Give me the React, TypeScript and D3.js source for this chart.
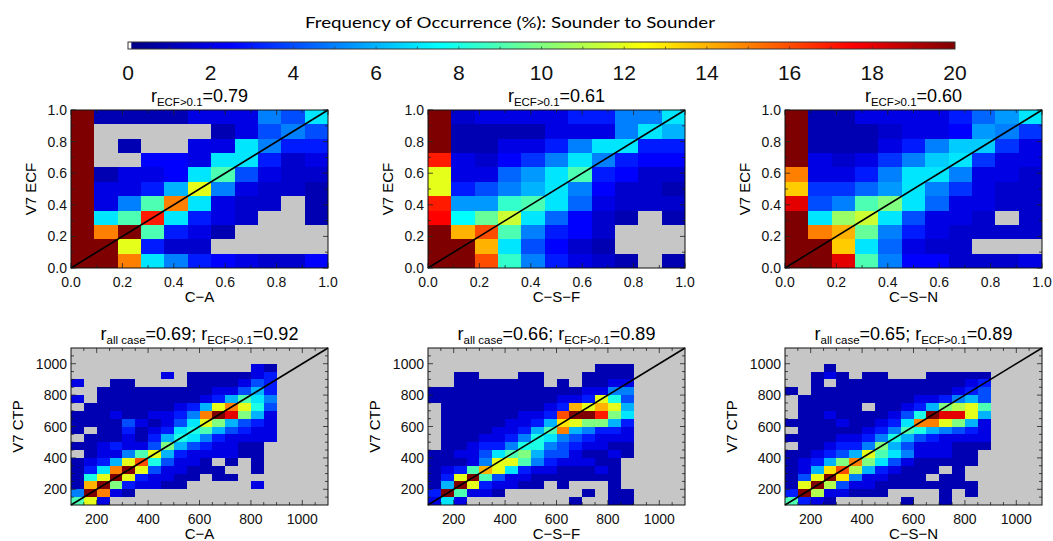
import React from "react";
import * as d3 from "d3";

const _ = null;

// ECF panels: 11 x 11 bins, rows listed from V7 ECF = 1.0 (top) down to 0.0
const ecfCA = [
  [20, 1, 1, 1, 1, 2, 2, 2, 5, 4, 7],
  [20, _, _, _, _, _, 1, 2, 4, 5, 4],
  [20, _, 1, _, _, 2, 2, 7, 5, 3, 3],
  [20, _, _, 2.5, 2.5, 2, 7, 7, 3, 1.5, 2],
  [20, 1, 2, 2, 2.5, 7, 9, 4, 2, 1.5, 1.5],
  [20, 2, 2, 3, 6, 12, 5, 2, 1.5, 1.5, 1],
  [20, 2, 5, 9, 15, 7, 2, 1.5, 1.5, _, 1],
  [20, 7, 9, 17, 7, 3, 2, 1.5, _, _, 1],
  [20, 15, 20, 9, 3, 2, 1, _, _, _, _],
  [20, 20, 12, 3, 1.5, 1.5, _, _, _, _, _],
  [20, 20, 15, 7, 5, 3, 2.5, 2, 1.5, 1.5, 2.5],
];
const ecfCSF = [
  [20, 1.5, 2, 2, 2, 2, 3, 3, 5, 5, 7],
  [20, 1, 1, 1, 1, 2, 2, 2, 5, 7, 6],
  [20, 1, 1, 2, 2, 3, 5, 7, 7, 3, 3],
  [17, 2, 1.5, 2.5, 3.5, 5, 7, 5, 3, 2.5, 2.5],
  [12, 2, 2, 4.5, 5.5, 7, 9, 3, 2.5, 1.5, 1.5],
  [12, 3, 4, 5, 6, 7, 5, 2.5, 1.5, 1.5, 1],
  [17, 5.5, 5.5, 8.5, 9, 7, 4.5, 2, 1.5, 1.5, 1.5],
  [17.5, 7.5, 9.5, 11.5, 7, 4.5, 2.5, 1.5, 1, _, 1],
  [20, 14, 16, 9, 5, 3, 2.5, 1.5, _, _, _],
  [20, 20, 14, 7, 4, 2.5, 1.5, 1, _, _, _],
  [20, 20, 16, 8.5, 5, 3, 2, 1.5, 1, _, 1],
];
const ecfCSN = [
  [20, 1, 1, 2, 2, 2, 2, 3, 4.5, 5.5, 7],
  [20, 1, 1, 1, 1.5, 2, 2, 2.5, 5.5, 5, 3.5],
  [20, 1, 1, 1, 2, 3, 5, 6.5, 6.5, 3.5, 2],
  [20, 2, 1.5, 2, 3.5, 5, 6.5, 7, 3.5, 2, 2],
  [15, 2, 2, 3, 5, 7, 7, 5, 2, 2, 1.5],
  [13.5, 3.5, 3.5, 4.5, 5.5, 7, 5, 3.5, 2, 1.5, 1.5],
  [18, 4, 5, 9, 10, 7, 4.5, 2, 2, 1.5, 1.5],
  [20, 7, 10.5, 11.5, 7, 4, 2, 2, 1.5, _, 1.5],
  [20, 15, 14, 9.5, 5, 3, 2, 1.5, 1.5, 1.5, 1.5],
  [20, 20, 13.5, 7, 4.5, 2, 1.5, 1.5, _, _, _],
  [20, 20, 18, 9, 5, 2.5, 2.5, 1.5, 1.5, 1.5, 2],
];

// CTP panels: 20 x 20 bins of 50 hPa, rows listed from 1100 (top) down to 100
const ctpCA = [
  [_, _, _, _, _, _, _, _, _, _, _, _, _, _, _, _, _, _, _, _],
  [_, _, _, _, _, _, _, _, _, _, _, _, _, _, _, _, _, _, _, _],
  [_, _, _, _, _, _, _, _, _, _, _, _, _, _, 2, 1, _, _, _, _],
  [_, _, _, _, _, _, _, 2, _, 1, 1, 1, 1, 1, 2, 3, _, _, _, _],
  [2, _, _, 1, 1, _, _, _, _, 1, 1, 1, 1, 2, 4, 3, _, _, _, _],
  [_, _, 1, 1, 1, 1, 1, 1, 1, 1, 1, 2, 2, 4, 6, 3, _, _, _, _],
  [2, _, 1, 1, 1, 1, 1, 1, 1, 1, 2, 3, 6, 9, 7, 5, _, _, _, _],
  [_, 1, 1, 1, 1, 1, 1, 1, 2, 3, 6, 12, 15, 12, 8, 4, _, _, _, _],
  [1, 1, 1, 2, 1, 1, 2, 2, 3, 5, 15, 20, 18, 10, 6, 2, _, _, _, _],
  [1, 1, 1, 1, 4, 2, 1, 2, 4, 7, 12, 10, 6, 4, 3, 2, _, _, _, _],
  [1, _, 1, 1, 3, 1, 2, 3, 7, 8, 9, 6, 4, 3, 2, 2, _, _, _, _],
  [_, 1, 1, 1, 2, 1, 3, 6, 8, 7, 5, 3, 2, 2, 2, 2, _, _, _, _],
  [1, 1, 2, 3, 2, 2, 4, 10, 6, 4, 3, 2, 2, 1, 1, _, _, _, _, _],
  [_, 1, 2, 2, 5, 9, 12, 6, 3, 2, 2, 2, 2, 1, 1, _, _, _, _, _],
  [1, 2, 3, 6, 12, 16, 8, 4, 2, 2, 1, _, 1, _, 1, _, _, _, _, _],
  [1, 3, 7, 15, 20, 12, 4, 2, 2, 1, 1, 1, _, _, 1, _, _, _, _, _],
  [1, 8, 12, 20, 12, 3, 2, 2, 1, 1, _, 1, 1, _, _, _, _, _, _, _],
  [1, 14, 20, 10, 3, 2, 2, 1, 1, _, _, _, _, _, 2, _, _, _, _, _],
  [5, 20, 15, 2, 1, _, _, _, _, _, _, _, _, _, _, _, _, _, _, _],
  [9, 12, 2, _, _, _, _, _, _, _, _, _, _, _, _, _, _, _, _, _],
];
const ctpCSF = [
  [_, _, _, _, _, _, _, _, _, _, _, _, _, _, _, _, _, _, _, _],
  [_, _, _, _, _, _, _, _, _, _, _, _, _, _, _, _, _, _, _, _],
  [_, _, _, _, _, _, _, _, _, _, _, _, _, 1, 1, 1, _, _, _, _],
  [_, _, 1, 1, _, _, _, 1, 1, _, _, _, 1, 1, 1, 1, _, _, _, _],
  [_, _, 1, 1, 1, 1, 1, 1, 1, _, 1, _, 1, 1, 2, 2, _, _, _, _],
  [1, 1, 1, 1, 1, 1, 1, 1, 1, 1, 1, 1, 2, 2, 5, 5, _, _, _, _],
  [1, 1, 1, 1, 1, 1, 1, 1, 1, 1, 2, 2, 3, 12, 8, 4, _, _, _, _],
  [_, 1, 1, 1, 1, 1, 1, 1, 1, 2, 3, 14, 12, 14, 12, 6, _, _, _, _],
  [_, 1, 1, 1, 1, 1, 1, 2, 2, 3, 16, 20, 20, 17, 10, 7, _, _, _, _],
  [_, 1, 1, 1, 1, 1, 2, 2, 3, 6, 13, 12, 10, 10, 6, 3, _, _, _, _],
  [_, 1, 1, 1, 1, 2, 2, 3, 6, 9, 15, 6, 5, 3, 3, 2, _, _, _, _],
  [_, 1, 1, 1, 2, 2, 3, 5, 8, 7, 5, 4, 3, 2, 2, 2, _, _, _, _],
  [_, 1, 1, 2, 3, 3, 5, 8, 8, 5, 4, 3, 2, 2, 1, 1, _, _, _, _],
  [1, 1, 2, 2, 4, 7, 9, 10, 6, 4, 4, 2, 1, 1, 2, 1, _, _, _, _],
  [1, 1, 1, 2, 5, 12, 12, 9, 5, 3, 2, 2, 2, 1, 1, _, _, _, _, _],
  [1, 2, 3, 9, 14, 12, 7, 3, 2, 2, 1, 1, 1, 2, 1, _, _, _, _, _],
  [1, 3, 12, 20, 9, 4, 2, 2, 1, 1, 1, 1, 1, 1, 1, _, _, _, _, _],
  [1, 6, 20, 12, 3, 2, 2, 1, 1, _, 1, _, _, _, 1, _, _, _, _, _],
  [3, 20, 9, 2, 2, 1, _, _, _, _, _, _, 1, _, 1, 1, _, _, _, _],
  [2, 7, 2, _, _, _, _, _, _, _, _, 1, _, _, 1, 1, _, _, _, _],
];
const ctpCSN = [
  [_, _, _, _, _, _, _, _, _, _, _, _, _, _, _, _, _, _, _, _],
  [_, _, _, _, _, _, _, _, _, _, _, _, _, _, _, _, _, _, _, _],
  [_, _, _, 1, _, _, _, _, _, _, _, _, _, _, _, _, _, _, _, _],
  [_, _, 1, 2, 1, _, 1, 1, _, _, _, 1, 1, 1, 1, 1, _, _, _, _],
  [_, _, 1, _, 1, 1, 1, 1, 1, 1, 1, 1, 1, 1, 2, 3, _, _, _, _],
  [1, _, 1, 1, 1, 1, 1, 1, 1, 1, 1, 1, 1, 2, 3, 4, _, _, _, _],
  [_, 1, 1, 1, 1, 1, 1, 1, 1, 1, 2, 2, 3, 5, 6, 4, _, _, _, _],
  [_, 1, 1, 1, 1, 1, _, 1, 1, 2, 3, 6, 10, 11, 12, 9, _, _, _, _],
  [_, 1, 1, 2, 1, 1, 1, 1, 2, 4, 8, 20, 18, 18, 12, 6, _, _, _, _],
  [1, 1, 1, 1, 2, 1, 1, 2, 3, 7, 15, 15, 12, 10, 6, 2, _, _, _, _],
  [_, 1, 1, 1, 1, 1, 2, 3, 5, 9, 8, 6, 5, 4, 3, 2, _, _, _, _],
  [1, 1, 1, 1, 2, 2, 3, 5, 8, 6, 4, 3, 2, 2, 2, 2, _, _, _, _],
  [_, 1, 1, 2, 3, 3, 5, 10, 6, 4, 2, 2, 2, 1, 1, 1, _, _, _, _],
  [1, 1, 2, 3, 4, 6, 12, 9, 7, 5, 2, 2, 2, 1, 1, _, _, _, _, _],
  [1, 2, 3, 6, 10, 15, 10, 7, 4, 2, 1, 1, 1, 1, 1, _, _, _, _, _],
  [1, 2, 6, 13, 16, 11, 6, 3, 2, 1, 1, 1, _, 1, _, _, _, _, _, _],
  [1, 4, 12, 20, 13, 5, 2, 2, 1, 1, 1, _, 1, 1, _, _, _, _, _, _],
  [1, 12, 20, 11, 4, 2, 2, 1, 1, 1, 1, 1, 1, 1, 1, _, _, _, _, _],
  [3, 20, 11, 2, 2, 1, 1, 1, _, _, _, _, 1, _, 1, _, _, _, _, _],
  [9, 3, 2, 1, _, _, _, _, _, 1, _, _, 1, _, _, _, _, _, _, _],
];

const colorTicks = [0, 2, 4, 6, 8, 10, 12, 14, 16, 18, 20];
const ecfTicks = [0, 0.2, 0.4, 0.6, 0.8, 1.0];
const ctpTicks = [200, 400, 600, 800, 1000];
const xNames = ["C\u2212A", "C\u2212S\u2212F", "C\u2212S\u2212N"];
const ecfR = ["0.79", "0.61", "0.60"];
const ctpRAll = ["0.69", "0.66", "0.65"];
const ctpREcf = ["0.92", "0.89", "0.89"];

const FONT = "'Liberation Sans', Arial, Helvetica, sans-serif";
const GRAY = "#c6c6c6";

// jet-like colour table
const jet = d3
  .scaleLinear<string>()
  .domain([0, 2.5, 7.5, 12.5, 17.5, 20])
  .range(["#00007f", "#0000ff", "#00ffff", "#ffff00", "#ff0000", "#7f0000"])
  .clamp(true);

const panelLeft = [71, 428, 785];
const panelW = 257;

type Seg = { t: string; sub?: boolean };

function Title({ x, y, segs }: { x: number; y: number; segs: Seg[] }) {
  let shifted = false;
  return (
    <text x={x} y={y} textAnchor="middle" fontFamily={FONT} fontSize={18}>
      {segs.map((s, i) => {
        let dy = 0;
        if (s.sub && !shifted) { dy = 4; shifted = true; }
        else if (!s.sub && shifted) { dy = -4; shifted = false; }
        return (
          <tspan key={i} dy={dy} fontSize={s.sub ? 11.5 : 18}>{s.t}</tspan>
        );
      })}
    </text>
  );
}

function Panel(props: any) {
  const { left, top, height, grid, domain, ticks, minorStep, fmt, xLabel, yLabel, yGap, title } = props;
  const x = d3.scaleLinear().domain(domain).range([left, left + panelW]);
  const y = d3.scaleLinear().domain(domain).range([top + height, top]);
  const nRows = grid.length;
  const nCols = grid[0].length;
  const bw = (domain[1] - domain[0]) / nCols;
  const bh = (domain[1] - domain[0]) / nRows;
  const cells: any[] = [];
  grid.forEach((row: (number | null)[], i: number) =>
    row.forEach((v, j) => {
      const x0 = domain[0] + j * bw;
      const y0 = domain[0] + (nRows - 1 - i) * bh;
      cells.push({ v, x0, x1: x0 + bw, y0, y1: y0 + bh, key: `${i}-${j}` });
    })
  );
  const minors = d3.range(domain[0], domain[1] + minorStep / 2, minorStep).filter(
    (m) => m > domain[0] + 1e-9 && m < domain[1] - 1e-9
  );
  const bottom = top + height;
  const right = left + panelW;
  const tk = (v: number, len: number) => (
    <g key={`t${v}-${len}`}>
      <line x1={x(v)} x2={x(v)} y1={bottom} y2={bottom - len} />
      <line x1={x(v)} x2={x(v)} y1={top} y2={top + len} />
      <line y1={y(v)} y2={y(v)} x1={left} x2={left + len} />
      <line y1={y(v)} y2={y(v)} x1={right} x2={right - len} />
    </g>
  );
  return (
    <g>
      <g shapeRendering="crispEdges">
        {cells.map((c) => (
          <rect
            key={c.key}
            x={x(c.x0)}
            y={y(c.y1)}
            width={x(c.x1) - x(c.x0)}
            height={y(c.y0) - y(c.y1)}
            fill={c.v == null ? GRAY : jet(c.v)}
          />
        ))}
      </g>
      <line
        x1={x(domain[0])}
        y1={y(domain[0])}
        x2={x(domain[1])}
        y2={y(domain[1])}
        stroke="#000"
        strokeWidth={1.6}
      />
      <g stroke="#222" strokeWidth={0.8}>
        {ticks.map((t: number) => tk(t, 5))}
        {minors.filter((m) => !ticks.some((t: number) => Math.abs(t - m) < 1e-9)).map((m) => tk(m, 3))}
      </g>
      <rect x={left} y={top} width={panelW} height={height} fill="none" stroke="#111" strokeWidth={1} />
      <g fontFamily={FONT} fontSize={14} fill="#111">
        {ticks.map((t: number) => (
          <text key={`xl${t}`} x={x(t)} y={bottom + 19} textAnchor="middle">{fmt(t)}</text>
        ))}
        {ticks.map((t: number) => (
          <text key={`yl${t}`} x={left - 4} y={y(t)} dy="0.36em" textAnchor="end">{fmt(t)}</text>
        ))}
      </g>
      <text x={left + panelW / 2} y={bottom + 34} textAnchor="middle" fontFamily={FONT} fontSize={15}>
        {xLabel}
      </text>
      <text
        transform={`translate(${left - yGap},${top + height / 2}) rotate(-90)`}
        textAnchor="middle"
        dy="0.36em"
        fontFamily={FONT}
        fontSize={15}
      >
        {yLabel}
      </text>
      <Title x={left + panelW / 2} y={top - 8} segs={title} />
    </g>
  );
}

function ColorBar() {
  const x = d3.scaleLinear().domain([0, 20]).range([128, 955]);
  const stops = jet.domain();
  return (
    <g>
      <defs>
        <linearGradient id="jetgrad" x1="0" x2="1" y1="0" y2="0">
          {stops.map((s) => (
            <stop key={s} offset={`${(s / 20) * 100}%`} stopColor={jet(s)} />
          ))}
        </linearGradient>
      </defs>
      <text x={305} y={28} fontFamily="Lato, 'Open Sans', sans-serif" fontSize={16} textLength={410} lengthAdjust="spacingAndGlyphs">
        Frequency of Occurrence (%): Sounder to Sounder
      </text>
      <rect x={x(0)} y={42} width={x(20) - x(0)} height={7} fill="url(#jetgrad)" />
      <rect x={x(0)} y={42} width={x(0.08) - x(0)} height={7} fill="#fff" />
      <g stroke="#333" strokeWidth={0.7}>
        {d3.range(1, 20).map((v) => (
          <line key={v} x1={x(v)} x2={x(v)} y1={49} y2={46.5} />
        ))}
      </g>
      <rect x={x(0)} y={42} width={x(20) - x(0)} height={7} fill="none" stroke="#333" strokeWidth={1} />
      <g fontFamily={FONT} fontSize={21} fill="#111">
        {colorTicks.map((t) => (
          <text key={t} x={x(t)} y={80} textAnchor="middle">{t}</text>
        ))}
      </g>
    </g>
  );
}

export default function App() {
  const ecfGrids = [ecfCA, ecfCSF, ecfCSN];
  const ctpGrids = [ctpCA, ctpCSF, ctpCSN];
  return (
    <svg
      width={1053}
      height={541}
      style={{ position: "absolute", left: 0, top: 0, background: "#fff" }}
    >
      <rect width={1053} height={541} fill="#fff" />
      <ColorBar />
      {ecfGrids.map((g, i) => (
        <Panel
          key={`e${i}`}
          left={panelLeft[i]}
          top={110}
          height={158}
          grid={g}
          domain={[0, 1]}
          ticks={ecfTicks}
          minorStep={0.1}
          fmt={(v: number) => v.toFixed(1)}
          xLabel={xNames[i]}
          yLabel="V7 ECF"
          yGap={40}
          title={[{ t: "r" }, { t: "ECF>0.1", sub: true }, { t: "=" + ecfR[i] }]}
        />
      ))}
      {ctpGrids.map((g, i) => (
        <Panel
          key={`c${i}`}
          left={panelLeft[i]}
          top={348}
          height={157}
          grid={g}
          domain={[100, 1100]}
          ticks={ctpTicks}
          minorStep={50}
          fmt={(v: number) => String(v)}
          xLabel={xNames[i]}
          yLabel="V7 CTP"
          yGap={53}
          title={[
            { t: "r" },
            { t: "all case", sub: true },
            { t: "=" + ctpRAll[i] + "; r" },
            { t: "ECF>0.1", sub: true },
            { t: "=" + ctpREcf[i] },
          ]}
        />
      ))}
    </svg>
  );
}
